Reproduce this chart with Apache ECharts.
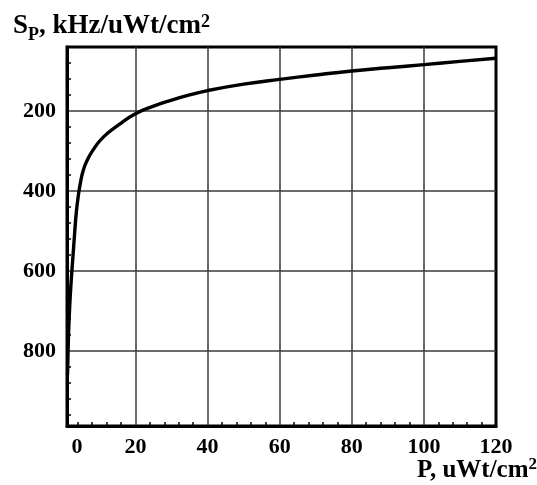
<!DOCTYPE html>
<html>
<head>
<meta charset="utf-8">
<script src="https://cdn.jsdelivr.net/npm/echarts@6/dist/echarts.min.js"></script>
<style>
  html, body { margin: 0; padding: 0; background: #fff; }
  #chart { width: 537px; height: 485px; }
</style>
</head>
<body>
<div id="chart"></div>
<script>
// curve
const pValues = [1.15, 1.3, 1.5, 1.8, 2.2, 2.7, 3.1, 3.6, 4.2, 4.7, 5.4, 6.4, 8.2, 11, 15.6, 20, 25, 30, 35, 40, 50, 60, 70, 80, 90, 100, 110, 120];
const sValues = [860, 800, 740, 680, 620, 558, 508, 452, 408, 381, 352, 327, 298, 266, 233, 207, 188, 173, 160, 149, 133, 121, 110, 100, 92, 84, 76, 68];

// axes
const xMin = 1, xMax = 120;
const yMin = 40, yMax = 988;
const xLabelValues = [1, 20, 40, 60, 80, 100, 120];
const xGridValues = [20, 40, 60, 80, 100];
const xTickValues = [4, 8, 12, 16, 24, 28, 32, 36, 44, 48, 52, 56, 64, 68, 72, 76, 84, 88, 92, 96, 104, 108, 112, 116];
const yLabelValues = [200, 400, 600, 800];
const yTickValues = [80, 120, 160, 240, 280, 320, 360, 440, 480, 520, 560, 640, 680, 720, 760, 840, 880, 920, 960];

const font = 'Liberation Serif';

drawChart();

function drawChart() {
    let myChart = echarts.init(document.getElementById('chart'));

    let labelStyle = {
        fontFamily: font,
        fontWeight: 'bold',
        fontSize: 22,
        color: '#000'
    };

    let bold = { fontFamily: font, fontWeight: 'bold', color: '#000' };

    let option = {
        animation: false,
        backgroundColor: '#fff',
        title: [
            {
                left: 13,
                top: 8,
                padding: 0,
                text: '{s|S}{p|P}{t|, kHz/uWt/cm}{e|2}',
                textStyle: {
                    rich: {
                        s: { ...bold, fontSize: 27, lineHeight: 36 },
                        p: { ...bold, fontSize: 18, lineHeight: 18, padding: [18, 0, 0, 0] },
                        t: { ...bold, fontSize: 27, lineHeight: 36 },
                        e: { ...bold, fontSize: 18, lineHeight: 18, padding: [0, 0, 8, 0] }
                    }
                }
            },
            {
                right: 0,
                top: 455,
                padding: 0,
                text: '{t|P, uWt/cm}{e|2}',
                textStyle: {
                    rich: {
                        t: { ...bold, fontSize: 25, lineHeight: 32 },
                        e: { ...bold, fontSize: 17, lineHeight: 17, padding: [0, 0, 12, 0] }
                    }
                }
            }
        ],
        grid: {
            left: 67,
            top: 47,
            width: 429,
            height: 379,
            show: true,
            borderColor: '#000',
            borderWidth: 3,
            backgroundColor: '#fff'
        },
        xAxis: [
            {
                type: 'value',
                min: xMin,
                max: xMax,
                axisLine: { show: true, lineStyle: { color: '#000', width: 3 } },
                axisTick: { show: true, inside: true, length: 4, customValues: xTickValues, lineStyle: { color: '#000', width: 1.5 } },
                axisLabel: {
                    customValues: xLabelValues,
                    margin: 10,
                    formatter: function (v) { return v === xMin ? '{z|0}' : String(v); },
                    rich: { z: Object.assign({ padding: [0, 0, 0, 20] }, labelStyle) },
                    ...labelStyle
                },
                splitLine: { show: false }
            },
            {
                type: 'value',
                min: xMin,
                max: xMax,
                position: 'bottom',
                axisLine: { show: false },
                axisTick: { show: false, customValues: xGridValues },
                axisLabel: { show: false },
                splitLine: { show: true, lineStyle: { color: '#3a3a3a', width: 1.5 } }
            }
        ],
        yAxis: [
            {
                type: 'value',
                inverse: true,
                min: yMin,
                max: yMax,
                axisLine: { show: true, lineStyle: { color: '#000', width: 3 } },
                axisTick: { show: true, inside: true, length: 4, customValues: yTickValues, lineStyle: { color: '#000', width: 1.5 } },
                axisLabel: { customValues: yLabelValues, margin: 11, ...labelStyle },
                splitLine: { show: false }
            },
            {
                type: 'value',
                inverse: true,
                min: yMin,
                max: yMax,
                position: 'left',
                axisLine: { show: false },
                axisTick: { show: false, customValues: yLabelValues },
                axisLabel: { show: false },
                splitLine: { show: true, lineStyle: { color: '#3a3a3a', width: 1.5 } }
            }
        ],
        series: [
            {
                type: 'line',
                xAxisIndex: 0,
                yAxisIndex: 0,
                data: pValues.map((p, i) => [p, sValues[i]]),
                smooth: 0.5,
                showSymbol: false,
                lineStyle: { color: '#000', width: 3.4 },
                z: 5
            }
        ]
    };

    myChart.setOption(option);
}
</script>
</body>
</html>
